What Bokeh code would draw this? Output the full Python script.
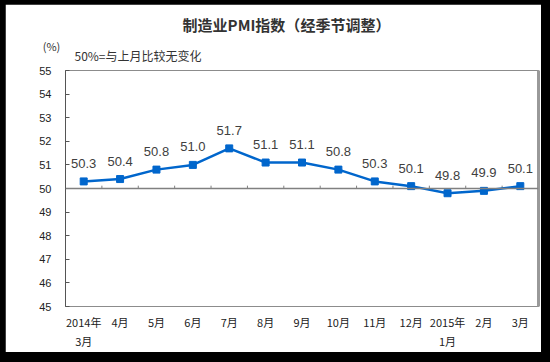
from bokeh.plotting import figure
from bokeh.models import (ColumnDataSource, Span, Label, LinearAxis, FixedTicker,
                          GlobalInlineStyleSheet, Range1d)
from bokeh.core.properties import value
from bokeh.embed import file_html
from bokeh.resources import INLINE

months = ["2014年\n3月", "4月", "5月", "6月", "7月", "8月", "9月", "10月",
          "11月", "12月", "2015年\n1月", "2月", "3月"]
pmi = [50.3, 50.4, 50.8, 51.0, 51.7, 51.1, 51.1, 50.8, 50.3, 50.1, 49.8, 49.9, 50.1]
pmi_labels = ["50.3", "50.4", "50.8", "51.0", "51.7", "51.1", "51.1", "50.8",
              "50.3", "50.1", "49.8", "49.9", "50.1"]
y_ticks = [45, 46, 47, 48, 49, 50, 51, 52, 53, 54, 55]
baseline = 50
title_text = "制造业PMI指数（经季节调整）"
unit_text = "(%)"
note_text = "50%=与上月比较无变化"

x = list(range(len(months)))
src = ColumnDataSource(dict(x=x, y=pmi, label=pmi_labels))

p = figure(width=536, height=348, output_backend="svg", toolbar_location=None,
           x_range=Range1d(-0.5, len(months) - 0.5),
           y_range=Range1d(y_ticks[0], y_ticks[-1]),
           min_border_left=60, min_border_right=3, min_border_top=66,
           min_border_bottom=46)
p.stylesheets = [GlobalInlineStyleSheet(
    css="body{background:#000;padding:4px 0 0 5px;}")]
p.background_fill_color = "white"
p.border_fill_color = "white"
p.xgrid.visible = False
p.ygrid.visible = False
p.outline_line_color = "#8c8c8c"
p.outline_line_width = 1

# left axis
yax = p.yaxis[0]
yax.ticker = FixedTicker(ticks=y_ticks)
yax.major_tick_in = 4
yax.major_tick_out = 0
yax.minor_tick_in = 0
yax.minor_tick_out = 0
yax.axis_line_color = "#555555"
yax.major_tick_line_color = "#555555"
yax.major_label_standoff = 14
yax.major_label_text_font = "Liberation Sans"
yax.major_label_text_font_size = "11px"
yax.major_label_text_color = "#222222"

# bottom axis
xax = p.xaxis[0]
xax.ticker = FixedTicker(ticks=x)
xax.major_label_overrides = {i: m for i, m in enumerate(months)}
xax.major_tick_in = 0
xax.major_tick_out = 0
xax.minor_tick_in = 0
xax.minor_tick_out = 0
xax.axis_line_color = "#8c8c8c"
xax.major_label_standoff = 7
xax.major_label_text_font = "Noto Sans CJK SC"
xax.major_label_text_font_size = "11px"
xax.major_label_text_color = "#222222"
xax.major_label_text_line_height = 1.2

# right shadow border
rax = LinearAxis(ticker=FixedTicker(ticks=[]), major_tick_in=0, major_tick_out=0,
                 minor_tick_in=0, minor_tick_out=0, major_label_standoff=0,
                 major_label_text_font_size="0px", axis_line_width=3,
                 axis_line_color="#999999")
p.add_layout(rax, "right")

# baseline at 50
p.add_layout(Span(location=baseline, dimension="width", line_color="#808080",
                  line_width=1.5))
bx = [i + 0.5 for i in x[:-1]]
p.segment(x0=bx, y0=[baseline] * len(bx), x1=bx, y1=[baseline + 0.12] * len(bx),
          line_color="#808080", line_width=1)

p.line("x", "y", source=src, line_color="#0066cc", line_width=2.5)
p.scatter("x", "y", source=src, marker="square", size=7, color="#0066cc")
p.text("x", "y", text="label", source=src, y_offset=-18, text_align="center",
       text_baseline="middle", text_font=value("Liberation Sans"),
       text_font_size="13px", text_color="#404040")

p.add_layout(Label(x=281, y=20, x_units="canvas", y_units="canvas", text=title_text,
                   text_align="center", text_baseline="middle",
                   text_font="Noto Sans CJK SC", text_font_size="15px",
                   text_font_style="bold", text_color="#333333"), "above")
p.add_layout(Label(x=46, y=41, x_units="canvas", y_units="canvas", text=unit_text,
                   text_align="center", text_baseline="middle",
                   text_font="Noto Sans CJK SC", text_font_size="11px",
                   text_color="#333333"), "above")
p.add_layout(Label(x=69, y=51, x_units="canvas", y_units="canvas", text=note_text,
                   text_align="left", text_baseline="middle",
                   text_font="Noto Sans CJK SC", text_font_size="12px",
                   text_color="#333333"), "above")

open("out.html", "w").write(file_html(p, INLINE))
